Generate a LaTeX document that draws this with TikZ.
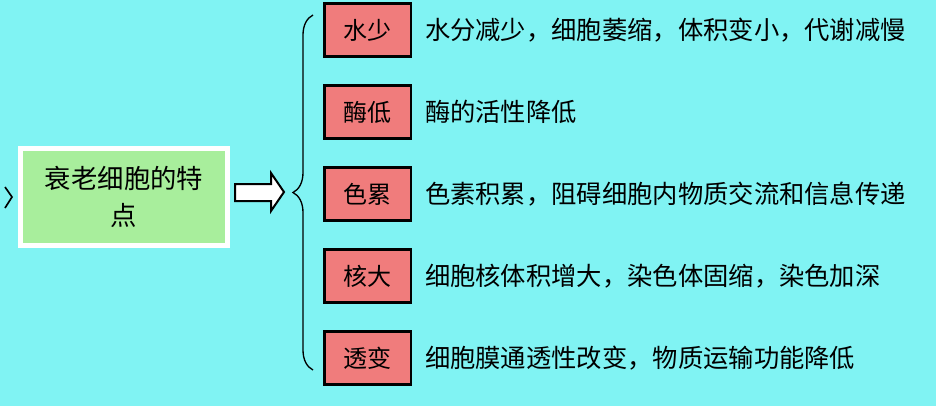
\documentclass[tikz,border=0pt]{standalone}
\usepackage{fontspec}
\newfontfamily\cjk{Noto Sans CJK SC}
\usetikzlibrary{positioning,decorations.pathreplacing,shadows}

\definecolor{bgcyan}{RGB}{128,243,243}
\definecolor{boxgreen}{RGB}{168,238,156}
\definecolor{boxred}{RGB}{240,124,124}

\tikzset{
  keybox/.style={draw=black,line width=0.08cm,fill=boxred,
    minimum width=2.6cm,minimum height=1.6cm,
    font=\cjk\fontsize{20.5}{24}\selectfont},
  desc/.style={anchor=west,inner sep=0pt,font=\cjk\fontsize{21.6}{26}\selectfont},
}

\begin{document}
\begin{tikzpicture}[x=0.03cm,y=-0.03cm]
         \fill[bgcyan] (0,0) rectangle (936,406) ;
         \useasboundingbox (0,0) rectangle (936,406) ;
         %\draw[very thin,gray,step=50] (0,0) grid (936,406) ;
         \draw[line width=0.05cm] (5,187) -- (12,197) -- (5,208) ; % tip cut at left edge
         \node[draw=white,line width=0.15cm,fill=boxgreen,
               drop shadow={shadow xshift=0.06cm,shadow yshift=-0.06cm,opacity=0.35},
               minimum width=6.2cm,minimum height=2.9cm,align=center,
               font=\cjk\fontsize{22.5}{32}\selectfont] (main) at (124,197)
               {衰老细胞的特\\点} ;
         % big arrow
         \draw[fill=white,line width=0.06cm,line join=miter]
               (235,184) -- (271,184) -- (271,173) -- (284,192)
               -- (271,211) -- (271,201) -- (235,201) -- cycle ;
         \draw[decorate,decoration={brace,amplitude=0.6cm},line width=0.04cm]
               (313,370) -- (313,15) ;
         \node[keybox] (k1) at (367.5,30) {水少} ;
         \node[keybox,below=0.78cm of k1] (k2) {酶低} ;
         \node[keybox,below=0.78cm of k2] (k3) {色累} ;
         \node[keybox,below=0.78cm of k3] (k4) {核大} ;
         \node[keybox,below=0.78cm of k4] (k5) {透变} ;
         \node[desc,right=0.38cm of k1] (d1) {水分减少，细胞萎缩，体积变小，代谢减慢} ;
         \node[desc,right=0.38cm of k2] (d2) {酶的活性降低} ;
         \node[desc,right=0.38cm of k3] (d3) {色素积累，阻碍细胞内物质交流和信息传递} ;
         \node[desc,right=0.38cm of k4] (d4) {细胞核体积增大，染色体固缩，染色加深} ;
         \node[desc,right=0.38cm of k5] (d5) {细胞膜通透性改变，物质运输功能降低} ;
      \end{tikzpicture}
\end{document}
